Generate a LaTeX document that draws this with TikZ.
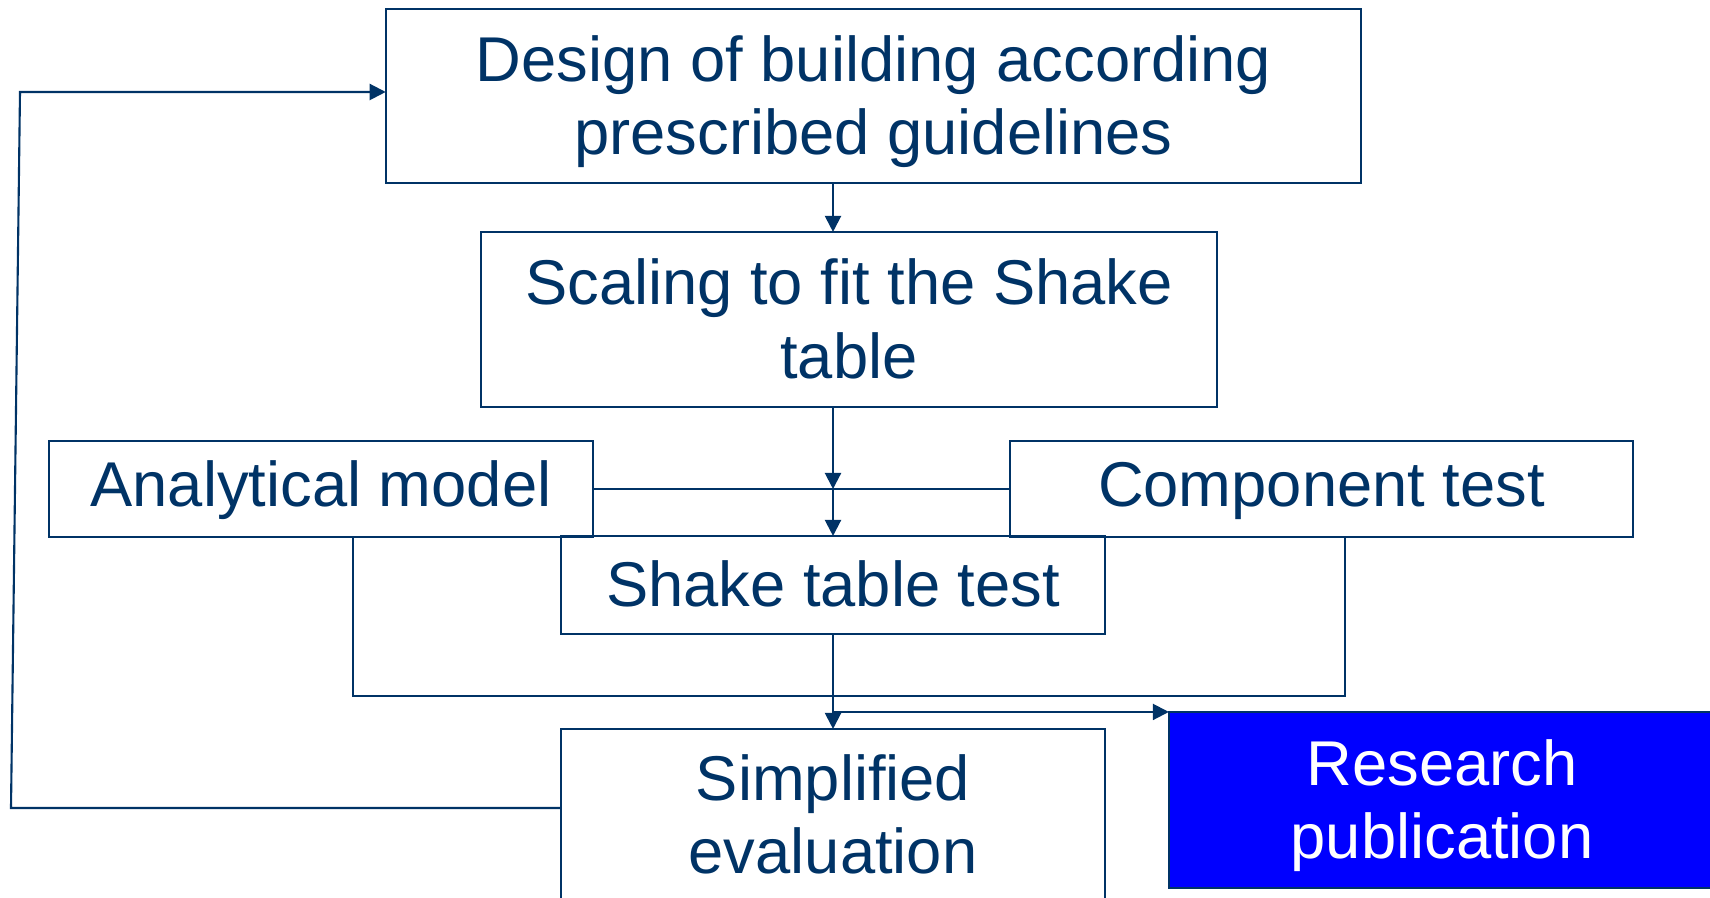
\documentclass[tikz,border=0pt]{standalone}
\usepackage{fontspec}
\setmainfont{Liberation Sans}
\usepackage{tikz}
\usetikzlibrary{positioning}
\usetikzlibrary{arrows.meta}
\usepackage{xcolor}
\definecolor{linenavy}{RGB}{0,51,102}
\definecolor{pubblue}{RGB}{0,0,255}

\begin{document}
\begin{tikzpicture}[x=0.01cm, y=-0.01cm,
    box/.style={draw=linenavy, line width=0.6pt, rectangle, align=center, inner sep=0pt, outer sep=0pt,
        text=linenavy, font=\fontsize{18}{20.8}\selectfont, text height=16.3pt, text depth=3.8pt},
    twoline/.style={text height=37.1pt},
    flow/.style={draw=linenavy, line width=0.6pt, -{Triangle[length=0.16cm, width=0.16cm]}},
    wire/.style={draw=linenavy, line width=0.6pt}]
            \clip (0,0) rectangle (1710,898);
            \useasboundingbox (0,0) rectangle (1710,898);
            % test programme boxes
            \node[box, twoline, minimum width=9.75cm, minimum height=1.74cm] (design) at (873.5,96) {Design of building according\\prescribed guidelines};
            \node[box, twoline, minimum width=7.36cm, minimum height=1.75cm] (scaling) at (849,319.5) {Scaling to fit the Shake\\table};
            \node[box, text height=13.9pt, minimum width=5.44cm, minimum height=0.96cm] (analytical) at (321,489) {Analytical model};
            \node[box, text height=13.9pt, minimum width=6.23cm, minimum height=0.96cm] (component) at (1321.5,489) {Component test};
            \node[box, minimum width=5.44cm, minimum height=0.98cm] (shake) at (833,585) {Shake table test};
            \node[box, twoline, minimum width=5.44cm, minimum height=1.72cm] (simplified) at (833,815) {Simplified\\evaluation};
            \node[box, twoline, fill=pubblue, text=white, minimum width=5.46cm, minimum height=1.76cm] (research) at (1442,800) {Research\\publication};

            \coordinate (mid) at (analytical.east -| shake.north);
            \coordinate (loopL) at (353,696);
            \coordinate (loopR) at (1345,696);
            \coordinate (fbB) at (11,808);
            \coordinate (fbT) at (20,92);

            \draw[flow] (design.south -| shake.north) -- (scaling.north -| shake.north);
            \draw[flow] (scaling.south -| shake.north) -- (mid);
            \draw[wire] (analytical.east) -- (component.west);
            \draw[flow] (mid) -- (shake.north);
            \draw[wire] (analytical.south -| loopL) -- (loopL) -- (loopR) -- (component.south -| loopR);
            \draw[flow] (shake.south) -- (simplified.north);
            \draw[flow] (shake.south |- research.north west) -- (research.north west);
            % feedback to design
            \draw[flow] (simplified.west |- fbB) -- (fbB) -- (fbT) -- (design.west |- fbT);
        \end{tikzpicture}
\end{document}
